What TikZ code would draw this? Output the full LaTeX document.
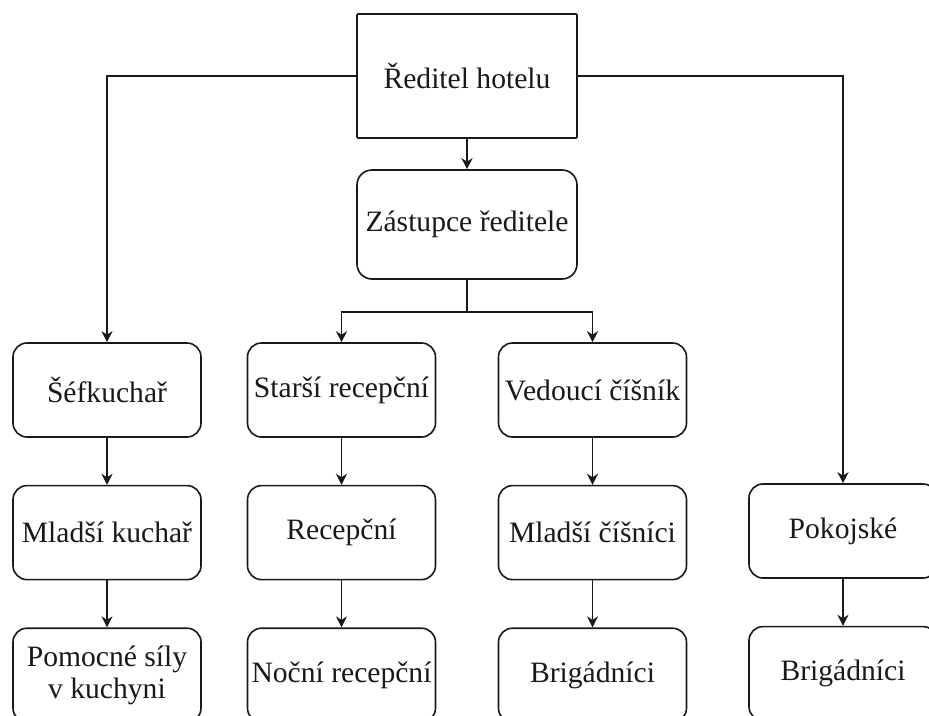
\documentclass[tikz,border=0pt]{standalone}
\usepackage{fontspec}
\setmainfont{Liberation Serif}
\usetikzlibrary{positioning, arrows.meta}
\definecolor{ink}{rgb}{0.1,0.1,0.1}

\begin{document}
\begin{tikzpicture}[
  x=1pt, y=-1pt,
  every node/.style={
    font=\fontsize{29.6}{32.5}\selectfont,
    align=center,
    draw=ink,
    text=ink,
    line width=1.6pt,
    inner sep=0pt,
  },
  role/.style={rounded corners=14pt, minimum width=188pt, minimum height=94pt},
  link/.style={draw=ink, line width=1.6pt, -{Stealth[length=11pt, width=11pt, inset=3.5pt]}},
]

\useasboundingbox (0,0) rectangle (929,715);
\clip (0,0) rectangle (929,715);

\node[rounded corners=1pt, minimum width=220pt, minimum height=124pt] (boss) at (467,76) {Ředitel hotelu};
\node[rounded corners=15pt, minimum width=220pt, minimum height=109pt] (deputy) at (467,224.5) {Zástupce ředitele};

% first row
\node[role] (chef) at (107,390) {Šéfkuchař};
\node[role] (seniorrec) at (341.5,390) {Starší recepční};
\node[role] (headwaiter) at (592.5,390) {Vedoucí číšník};

\node[role, below=47pt of chef] (juniorcook) {Mladší kuchař};
\node[role, below=47pt of seniorrec] (reception) {Recepční};
\node[role, below=47pt of headwaiter] (juniorwaiter) {Mladší číšníci};
\node[role] (maids) at (843,531) {Pokojské};

\node[role, below=47pt of juniorcook] (kitchenhelp) {Pomocné síly\\v kuchyni};
\node[role, below=47pt of reception] (nightrec) {Noční recepční};
\node[role, below=47pt of juniorwaiter] (temps1) {Brigádníci};
\node[role, below=47pt of maids] (temps2) {Brigádníci};

\draw[link] (boss.west) -| (chef.north);
\draw[link] (boss.east) -| (maids.north);
\draw[link] (boss) -- (deputy);
\draw[link] (deputy.south) -- ++(0,32) -| (seniorrec.north);
\draw[link] (deputy.south) -- ++(0,32) -| (headwaiter.north);

\draw[link] (chef) -- (juniorcook);
\draw[link] (juniorcook) -- (kitchenhelp);
\draw[link] (seniorrec) -- (reception);
\draw[link] (reception) -- (nightrec);
\draw[link] (headwaiter) -- (juniorwaiter);
\draw[link] (juniorwaiter) -- (temps1);
\draw[link] (maids) -- (temps2);

\end{tikzpicture}
\end{document}
